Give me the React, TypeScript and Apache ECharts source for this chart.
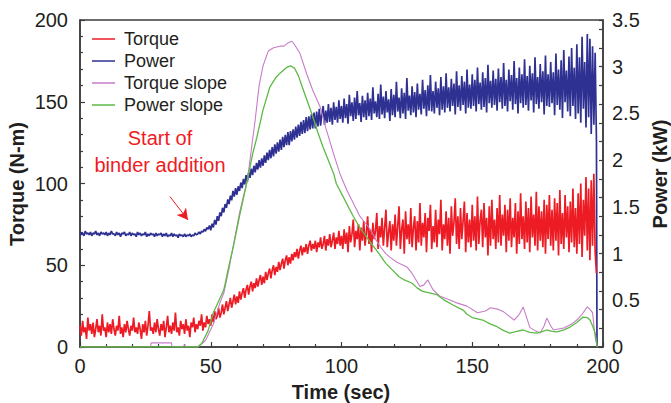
import React, { useEffect, useRef } from "react";
import * as echarts from "echarts";

// Sampling step of the torque / power recordings (s)
const sampleStep = 0.5;

// Torque (N-m), one reading every 0.5 s from t = 0 s
const torque: number[] = [
  13, 7, 16, 9, 12, 5, 18, 10, 14, 8, 15, 6, 11, 17, 9, 13, 7, 20, 10, 12,
  6, 15, 9, 14, 8, 17, 11, 7, 13, 10, 19, 8, 12, 6, 14, 9, 16, 11, 7, 13,
  10, 18, 9, 12, 8, 15, 11, 5, 14, 9, 16, 7, 13, 22, 10, 12, 8, 15, 9, 17,
  11, 7, 14, 10, 16, 6, 12, 19, 9, 13, 8, 15, 10, 21, 9, 12, 7, 16, 11, 14,
  8, 17, 10, 13, 6, 15, 12, 18, 9, 14, 11, 16, 13, 20, 10, 15, 12, 19, 14, 17,
  13, 20, 15, 22, 17, 19, 24, 18, 21, 26, 20, 24, 28, 22, 26, 30, 24, 28, 32, 26,
  31, 27, 34, 29, 33, 36, 30, 35, 38, 32, 37, 40, 34, 39, 36, 42, 37, 41, 44, 38,
  43, 39, 46, 41, 45, 48, 42, 47, 50, 44, 49, 46, 52, 47, 51, 54, 48, 53, 56, 50,
  55, 51, 57, 53, 58, 55, 60, 54, 59, 62, 56, 61, 58, 63, 57, 62, 65, 59, 63, 60,
  65, 58, 64, 61, 67, 60, 63, 68, 59, 66, 62, 69, 61, 65, 70, 60, 67, 63, 71, 62,
  68, 60, 72, 63, 70, 58, 74, 64, 69, 78, 61, 71, 66, 75, 59, 73, 65, 77, 62, 70,
  80, 63, 72, 58, 76, 66, 71, 82, 60, 74, 67, 79, 62, 73, 84, 61, 70, 77, 59, 75,
  65, 81, 62, 74, 86, 60, 72, 78, 57, 83, 66, 75, 63, 85, 61, 73, 80, 59, 77, 64,
  88, 62, 76, 67, 82, 58, 79, 71, 87, 60, 74, 64, 84, 61, 78, 69, 90, 59, 75, 66,
  83, 62, 79, 57, 86, 68, 76, 91, 63, 80, 60, 85, 66, 77, 89, 58, 82, 64, 78, 61,
  87, 65, 80, 59, 92, 63, 77, 84, 61, 88, 67, 79, 56, 86, 62, 90, 66, 78, 60, 85,
  64, 93, 62, 81, 68, 87, 58, 84, 65, 91, 61, 79, 67, 88, 57, 83, 63, 94, 66, 80,
  60, 89, 64, 85, 58, 92, 67, 81, 62, 95, 59, 86, 65, 83, 61, 90, 57, 87, 66, 93,
  62, 84, 59, 91, 65, 88, 56, 96, 63, 82, 60, 93, 67, 86, 58, 89, 64, 97, 61, 85,
  57, 94, 63, 100, 55, 90, 68, 104, 59, 97, 53, 102, 62, 106, 58, 45,
];

// Power (kW), one reading every 0.5 s from t = 0 s
const power: number[] = [
  1.23, 1.2, 1.22, 1.19, 1.24, 1.21, 1.22, 1.2, 1.23, 1.19, 1.22, 1.21, 1.24, 1.2, 1.22, 1.19, 1.23, 1.21, 1.22, 1.2,
  1.23, 1.19, 1.22, 1.2, 1.24, 1.21, 1.21, 1.19, 1.23, 1.2, 1.22, 1.18, 1.22, 1.21, 1.23, 1.19, 1.21, 1.2, 1.23, 1.19,
  1.22, 1.2, 1.21, 1.18, 1.23, 1.2, 1.22, 1.19, 1.21, 1.2, 1.23, 1.18, 1.21, 1.19, 1.22, 1.2, 1.21, 1.18, 1.22, 1.19,
  1.21, 1.2, 1.22, 1.18, 1.21, 1.19, 1.22, 1.18, 1.2, 1.19, 1.22, 1.18, 1.21, 1.19, 1.2, 1.17, 1.21, 1.19, 1.2, 1.18,
  1.21, 1.18, 1.2, 1.19, 1.21, 1.18, 1.2, 1.19, 1.22, 1.2, 1.21, 1.23, 1.21, 1.24, 1.23, 1.26, 1.24, 1.28, 1.26, 1.3,
  1.25, 1.32, 1.28, 1.36, 1.31, 1.4, 1.35, 1.44, 1.4, 1.49, 1.44, 1.53, 1.49, 1.58, 1.53, 1.62, 1.57, 1.67, 1.61, 1.7,
  1.63, 1.72, 1.67, 1.76, 1.7, 1.8, 1.74, 1.84, 1.77, 1.87, 1.81, 1.91, 1.84, 1.94, 1.87, 1.97, 1.9, 2.0, 1.92, 2.02,
  1.94, 2.05, 1.97, 2.08, 2.0, 2.11, 2.02, 2.14, 2.04, 2.17, 2.07, 2.19, 2.09, 2.22, 2.11, 2.25, 2.14, 2.27, 2.16, 2.3,
  2.16, 2.31, 2.2, 2.33, 2.22, 2.36, 2.24, 2.38, 2.26, 2.41, 2.28, 2.43, 2.29, 2.46, 2.31, 2.47, 2.33, 2.49, 2.34, 2.51,
  2.34, 2.52, 2.36, 2.55, 2.37, 2.5, 2.58, 2.38, 2.53, 2.4, 2.6, 2.41, 2.56, 2.38, 2.62, 2.43, 2.57, 2.4, 2.64, 2.44,
  2.58, 2.4, 2.66, 2.45, 2.6, 2.39, 2.7, 2.47, 2.62, 2.42, 2.67, 2.44, 2.74, 2.48, 2.61, 2.41, 2.69, 2.46, 2.64, 2.43,
  2.72, 2.47, 2.66, 2.43, 2.78, 2.5, 2.63, 2.46, 2.71, 2.44, 2.81, 2.49, 2.68, 2.45, 2.74, 2.51, 2.65, 2.42, 2.76, 2.48,
  2.7, 2.46, 2.84, 2.52, 2.67, 2.45, 2.77, 2.5, 2.72, 2.44, 2.88, 2.53, 2.69, 2.48, 2.79, 2.51, 2.73, 2.46, 2.82, 2.54,
  2.71, 2.49, 2.86, 2.55, 2.75, 2.47, 2.8, 2.53, 2.91, 2.52, 2.74, 2.5, 2.84, 2.56, 2.77, 2.48, 2.89, 2.54, 2.79, 2.51,
  2.93, 2.56, 2.78, 2.52, 2.87, 2.58, 2.82, 2.49, 2.95, 2.57, 2.8, 2.53, 2.9, 2.59, 2.84, 2.5, 2.97, 2.56, 2.81, 2.55,
  2.92, 2.58, 2.86, 2.52, 2.99, 2.6, 2.83, 2.54, 2.94, 2.57, 2.88, 2.51, 3.02, 2.61, 2.85, 2.56, 2.96, 2.59, 2.87, 2.53,
  2.98, 2.62, 2.89, 2.55, 3.04, 2.58, 2.86, 2.52, 2.97, 2.63, 2.91, 2.54, 3.06, 2.6, 2.88, 2.5, 2.99, 2.61, 2.92, 2.56,
  3.08, 2.59, 2.9, 2.53, 3.01, 2.64, 2.93, 2.51, 3.1, 2.6, 2.89, 2.55, 3.03, 2.62, 2.95, 2.49, 3.12, 2.58, 2.92, 2.57,
  3.05, 2.61, 2.94, 2.48, 3.14, 2.59, 2.97, 2.54, 3.07, 2.45, 3.18, 2.62, 2.96, 2.52, 3.11, 2.47, 3.2, 2.58, 2.99, 2.44,
  3.24, 2.5, 3.1, 2.4, 3.32, 2.55, 3.05, 2.35, 3.35, 2.46, 3.3, 2.28, 3.22, 2.38, 3.15, 2.2,
];
const powerEndTime = 197.7;
const powerEndValue = 0;

// Slope curves (plotted on the torque scale): [time s, value]
const torqueSlope: [number, number][] = [
  [0, 0], [27, 0], [27.2, 2.5], [35, 2.5], [35.2, 0], [39.5, 0], [40, 1.5], [40.5, 0], [45, 0],
  [48, 4], [51, 14], [53.5, 27], [55, 33], [57, 48], [58.5, 61], [61, 82], [64, 102], [67, 139],
  [68.5, 160], [70, 172], [72, 181], [74, 183], [76.5, 184], [78, 184], [79.5, 186], [81, 187],
  [82, 185], [84, 180], [86.7, 167], [89, 157], [91.8, 147], [94, 134], [97, 118], [99.4, 106],
  [102, 96], [104.5, 88], [107, 80], [109, 76], [111, 72], [113, 66], [115, 61], [117, 57],
  [118.5, 55], [121, 52], [125, 49], [127, 45], [130, 37], [131.5, 38], [133, 41], [135, 35],
  [137.7, 31], [141, 29], [144, 27], [148, 25], [152, 21], [155, 22], [157, 24], [160, 23],
  [162, 21.5], [164, 19], [166, 16.5], [168, 20], [169.5, 24.5], [171, 17], [172, 12], [174, 10],
  [176, 8.5], [177.5, 13], [178.5, 17.7], [180, 13], [181, 10.4], [183, 11], [185, 11.6], [188, 14],
  [190, 16.5], [192, 20], [194, 24.5], [195, 23], [196, 21], [197, 6], [197.8, 0],
];

const powerSlope: [number, number][] = [
  [0, 0], [45, 0], [46.5, 2], [49, 10], [51, 21], [53, 28], [55, 35], [57, 50], [58.6, 61],
  [61, 80], [64, 102], [66, 118], [67.6, 128], [70, 145], [72.6, 159], [75, 165], [76.5, 167.5],
  [79, 171], [80.5, 172], [82, 170.6], [83.5, 166], [85, 159], [87, 150], [89, 141], [91, 131],
  [93, 122], [95, 114], [97, 106], [98, 100], [100.6, 92], [102.5, 86], [104.5, 80], [107, 73],
  [109.7, 67], [111.5, 63], [113.5, 59], [117, 51], [119.5, 47], [122, 43], [124, 41], [127, 39],
  [129, 36], [131, 34], [134, 33], [136.5, 32], [139, 29], [142.6, 25.7], [146.5, 22.6], [148, 20],
  [150, 18], [154, 16.5], [157, 14], [159.5, 12.4], [162, 10], [164.4, 8.5], [167, 9.5],
  [169.5, 10.4], [172, 9], [174.7, 8.5], [177, 9.5], [178.5, 10.4], [180.5, 9.5], [182.4, 9.2],
  [185, 10.5], [187.4, 12.2], [190, 15], [192.4, 18.3], [194, 18], [195, 16.5], [196, 13],
  [197, 8.5], [197.8, 0],
];

// Annotation arrow (data coordinates: time, torque)
const arrowFrom: [number, number] = [34.4, 92];
const arrowTo: [number, number] = [41.3, 77.7];

const xTicks = { min: 0, max: 200, interval: 50 };
const torqueAxis = { min: 0, max: 200, interval: 50 };
const powerAxis = { min: 0, max: 3.5, interval: 0.5, tickInterval: 0.2 };

const FONT = "'Liberation Sans', Arial, Helvetica, sans-serif";
const AXIS_COLOR = "#3c3c3c";
const TEXT_COLOR = "#231f20";

export default function App() {
  const ref = useRef<HTMLDivElement>(null);

  useEffect(() => {
    if (!ref.current) return;
    const chart = echarts.init(ref.current, undefined, { renderer: "svg" });

    const torqueData = torque.map((v, i) => [i * sampleStep, v]);
    const powerData = power.map((v, i) => [i * sampleStep, v]);
    powerData.push([powerEndTime, powerEndValue]);

    const option: any = {
      animation: false,
      backgroundColor: "#ffffff",
      textStyle: { fontFamily: FONT },
      grid: {
        left: 80,
        right: 68,
        top: 20,
        bottom: 56,
        show: true,
        borderColor: AXIS_COLOR,
        borderWidth: 1.5,
        backgroundColor: "transparent",
      },
      legend: {
        orient: "vertical",
        left: 92,
        top: 30,
        padding: 0,
        itemGap: 4,
        itemWidth: 23,
        itemHeight: 1.5,
        icon: "rect",
        data: ["Torque", "Power", "Torque slope", "Power slope"],
        textStyle: { fontSize: 18, color: TEXT_COLOR, fontFamily: FONT, lineHeight: 18, padding: [0, 0, 0, 4] },
      },
      xAxis: {
        type: "value",
        min: xTicks.min,
        max: xTicks.max,
        interval: xTicks.interval,
        axisLine: { show: true, lineStyle: { color: AXIS_COLOR, width: 1.5 } },
        axisTick: { show: true, inside: true, length: 5, lineStyle: { color: AXIS_COLOR, width: 1.2 } },
        minorTick: { show: true, splitNumber: 5, length: 3, lineStyle: { color: AXIS_COLOR, width: 1.2 } },
        splitLine: { show: false },
        minorSplitLine: { show: false },
        axisLabel: { fontSize: 20, color: TEXT_COLOR, margin: 9, fontFamily: FONT },
      },
      yAxis: [
        {
          type: "value",
          position: "left",
          min: torqueAxis.min,
          max: torqueAxis.max,
          interval: torqueAxis.interval,
          axisLine: { show: true, lineStyle: { color: AXIS_COLOR, width: 1.5 } },
          axisTick: { show: true, inside: true, length: 5, lineStyle: { color: AXIS_COLOR, width: 1.2 } },
          minorTick: { show: true, splitNumber: 5, length: 3, lineStyle: { color: AXIS_COLOR, width: 1.2 } },
          splitLine: { show: false },
          minorSplitLine: { show: false },
          axisLabel: { fontSize: 20, color: TEXT_COLOR, margin: 12, fontFamily: FONT },
        },
        {
          type: "value",
          position: "right",
          min: powerAxis.min,
          max: powerAxis.max,
          interval: powerAxis.interval,
          axisLine: { show: true, lineStyle: { color: AXIS_COLOR, width: 1.5 } },
          axisTick: { show: false },
          splitLine: { show: false },
          axisLabel: { fontSize: 20, color: TEXT_COLOR, margin: 9, fontFamily: FONT },
        },
        {
          type: "value",
          position: "right",
          min: powerAxis.min,
          max: powerAxis.max,
          interval: powerAxis.tickInterval,
          axisLine: { show: false },
          axisTick: { show: true, inside: true, length: 4, lineStyle: { color: AXIS_COLOR, width: 1.2 } },
          splitLine: { show: false },
          axisLabel: { show: false },
        },
      ],
      series: [
        {
          name: "Power",
          type: "line",
          yAxisIndex: 1,
          data: powerData,
          symbol: "none",
          color: "#2e3192",
          lineStyle: { color: "#2e3192", width: 1.7 },
        },
        {
          name: "Torque",
          type: "line",
          yAxisIndex: 0,
          data: torqueData,
          symbol: "none",
          color: "#ed1c24",
          lineStyle: { color: "#ed1c24", width: 1.7 },
          markLine: {
            silent: true,
            symbol: ["none", "arrow"],
            symbolSize: [9, 11],
            label: { show: false },
            lineStyle: { color: "#ed1c24", width: 1, type: "solid" },
            data: [[{ coord: arrowFrom }, { coord: arrowTo }]],
          },
        },
        {
          name: "Torque slope",
          type: "line",
          yAxisIndex: 0,
          data: torqueSlope,
          symbol: "none",
          color: "#c77dc7",
          lineStyle: { color: "#c77dc7", width: 1.1 },
        },
        {
          name: "Power slope",
          type: "line",
          yAxisIndex: 0,
          data: powerSlope,
          symbol: "none",
          color: "#5cba45",
          lineStyle: { color: "#5cba45", width: 1.3 },
        },
      ],
      graphic: [
        {
          type: "text",
          x: 160,
          y: 124.5,
          style: {
            text: "Start of\nbinder addition",
            fontSize: 20,
            lineHeight: 27,
            fontFamily: FONT,
            fill: "#ed1c24",
            align: "center",
            verticalAlign: "top",
          },
        },
        {
          type: "text",
          x: 341,
          y: 392,
          style: {
            text: "Time (sec)",
            fontSize: 20,
            fontWeight: "bold",
            fontFamily: FONT,
            fill: TEXT_COLOR,
            align: "center",
            verticalAlign: "middle",
          },
        },
        {
          type: "text",
          x: 17,
          y: 184,
          rotation: Math.PI / 2,
          style: {
            text: "Torque (N-m)",
            fontSize: 20,
            fontWeight: "bold",
            fontFamily: FONT,
            fill: TEXT_COLOR,
            align: "center",
            verticalAlign: "middle",
          },
        },
        {
          type: "text",
          x: 660,
          y: 174,
          rotation: Math.PI / 2,
          style: {
            text: "Power (kW)",
            fontSize: 20,
            fontWeight: "bold",
            fontFamily: FONT,
            fill: TEXT_COLOR,
            align: "center",
            verticalAlign: "middle",
          },
        },
      ],
    };

    chart.setOption(option);
    return () => chart.dispose();
  }, []);

  return (
    <div
      ref={ref}
      style={{ position: "fixed", left: 0, top: 0, width: 671, height: 403, background: "#fff" }}
    />
  );
}
